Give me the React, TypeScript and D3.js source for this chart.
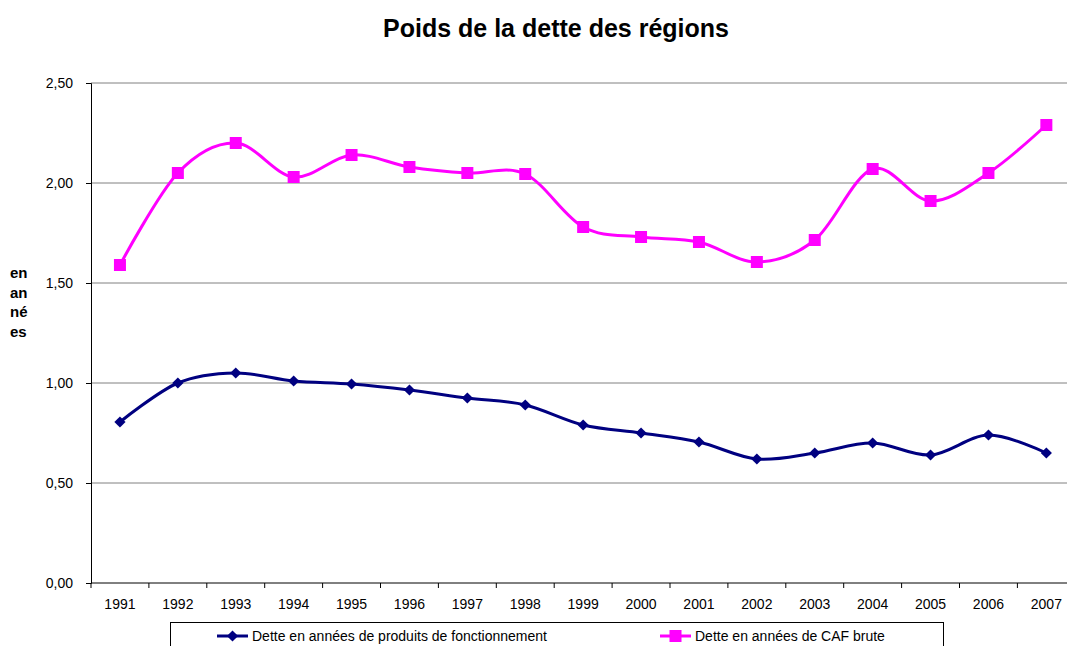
import React, { useEffect, useRef } from 'react';
import * as d3 from 'd3';

const years = ['1991', '1992', '1993', '1994', '1995', '1996', '1997', '1998', '1999', '2000', '2001', '2002', '2003', '2004', '2005', '2006', '2007'];
const detteProduits = [0.805, 1.0, 1.05, 1.01, 0.995, 0.965, 0.925, 0.89, 0.79, 0.75, 0.705, 0.62, 0.65, 0.70, 0.64, 0.74, 0.65];
const detteCaf = [1.59, 2.05, 2.20, 2.03, 2.14, 2.08, 2.05, 2.045, 1.78, 1.73, 1.705, 1.605, 1.715, 2.07, 1.91, 2.05, 2.29];
const yTicks = [0, 0.5, 1, 1.5, 2, 2.5];
const seriesNames = ['Dette en années de produits de fonctionnement', 'Dette en années de CAF brute'];
const yLabelLines = ['en', 'an', 'né', 'es'];

const W = 1067;
const H = 646;

const App: React.FC = () => {
    const svgRef = useRef<SVGSVGElement | null>(null);

    useEffect(() => {
        const svg = d3.select(svgRef.current);
        svg.selectAll('*').remove();
        const font = 'Liberation Sans, Arial, sans-serif';
        const margin = { left: 91, top: 83, bottom: 583 };

        const x = d3.scaleBand().domain(years).range([margin.left, margin.left + 57.9 * years.length]).padding(0);
        const y = d3.scaleLinear().domain([0, 2.5]).range([margin.bottom, margin.top]);
        const cx = (d: string) => (x(d) as number) + x.bandwidth() / 2;

        // titre
        svg.append('text')
            .attr('x', 556).attr('y', 37)
            .attr('text-anchor', 'middle')
            .attr('font-family', font).attr('font-weight', 'bold').attr('font-size', 25)
            .text('Poids de la dette des régions');

        // grille
        svg.append('g').selectAll('line')
            .data(yTicks.filter(t => t > 0))
            .join('line')
            .attr('x1', margin.left).attr('x2', W)
            .attr('y1', d => y(d)).attr('y2', d => y(d))
            .attr('stroke', '#808080').attr('stroke-width', 1);

        // axe Y
        const yAxis = svg.append('g')
            .attr('transform', `translate(${margin.left},0)`)
            .call(d3.axisLeft(y).tickValues(yTicks).tickSize(5).tickPadding(13)
                .tickFormat(d => d3.format('.2f')(d as number).replace('.', ',')));
        yAxis.select('.domain').attr('stroke', '#000');
        yAxis.selectAll('line').attr('stroke', '#000');
        yAxis.selectAll('text').attr('font-family', font).attr('font-size', 14).attr('fill', '#000');

        // axe X
        const xAxis = svg.append('g')
            .attr('transform', `translate(0,${margin.bottom})`)
            .call(d3.axisBottom(x).tickSize(0).tickPadding(16));
        xAxis.select('.domain').remove();
        svg.append('line')
            .attr('x1', margin.left).attr('x2', W)
            .attr('y1', margin.bottom).attr('y2', margin.bottom)
            .attr('stroke', '#000');
        svg.append('g').selectAll('line')
            .data(years)
            .join('line')
            .attr('x1', d => x(d) as number).attr('x2', d => x(d) as number)
            .attr('y1', margin.bottom).attr('y2', margin.bottom + 5)
            .attr('stroke', '#000');
        xAxis.selectAll('text').attr('font-family', font).attr('font-size', 14).attr('fill', '#000');

        // titre axe Y
        svg.append('text')
            .attr('font-family', font).attr('font-weight', 'bold').attr('font-size', 15)
            .selectAll('tspan')
            .data(yLabelLines)
            .join('tspan')
            .attr('x', 10)
            .attr('y', (_, i) => 278 + i * 19.5)
            .text(d => d);

        const line = d3.line<number>()
            .x((_, i) => cx(years[i]))
            .y(d => y(d))
            .curve(d3.curveCardinal.tension(0));

        const navy = '#000080';
        const pink = '#FF00FF';

        svg.append('path').datum(detteProduits)
            .attr('d', line).attr('fill', 'none').attr('stroke', navy).attr('stroke-width', 3);
        svg.append('path').datum(detteCaf)
            .attr('d', line).attr('fill', 'none').attr('stroke', pink).attr('stroke-width', 3);

        const diamond = d3.symbol().type(d3.symbolDiamond2).size(80);
        svg.append('g').selectAll('path')
            .data(detteProduits)
            .join('path')
            .attr('d', diamond)
            .attr('transform', (d, i) => `translate(${cx(years[i])},${y(d)})`)
            .attr('fill', navy);

        svg.append('g').selectAll('rect')
            .data(detteCaf)
            .join('rect')
            .attr('x', (d, i) => cx(years[i]) - 6)
            .attr('y', d => y(d) - 6)
            .attr('width', 12).attr('height', 12)
            .attr('fill', pink);

        // légende
        const lg = svg.append('g');
        lg.append('rect')
            .attr('x', 170.5).attr('y', 622.5)
            .attr('width', 773).attr('height', 40)
            .attr('fill', '#fff').attr('stroke', '#000');
        const items = [
            { name: seriesNames[0], color: navy, x: 217, kind: 'diamond' },
            { name: seriesNames[1], color: pink, x: 660, kind: 'square' },
        ];
        items.forEach(it => {
            lg.append('line')
                .attr('x1', it.x).attr('x2', it.x + 31)
                .attr('y1', 636).attr('y2', 636)
                .attr('stroke', it.color).attr('stroke-width', 3);
            if (it.kind === 'diamond') {
                lg.append('path').attr('d', diamond)
                    .attr('transform', `translate(${it.x + 15.5},636)`)
                    .attr('fill', it.color);
            } else {
                lg.append('rect')
                    .attr('x', it.x + 9.5).attr('y', 630)
                    .attr('width', 12).attr('height', 12)
                    .attr('fill', it.color);
            }
            lg.append('text')
                .attr('x', it.x + 35).attr('y', 641)
                .attr('font-family', font).attr('font-size', 14)
                .text(it.name);
        });
    }, []);

    return (
        <svg
            ref={svgRef}
            width={W}
            height={H}
            style={{ position: 'absolute', left: 0, top: 0, background: '#fff' }}
        ></svg>
    );
};

export default App;
